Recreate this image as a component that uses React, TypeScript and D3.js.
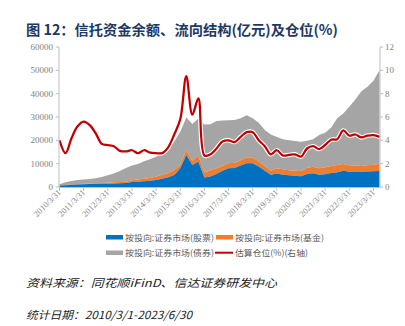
import React from "react";
import * as d3 from "d3";

const xTickLabels = ["2010/3/31","2011/3/31","2012/3/31","2013/3/31","2014/3/31","2015/3/31","2016/3/31","2017/3/31","2018/3/31","2019/3/31","2020/3/31","2021/3/31","2022/3/31","2023/3/31"];
const leftTicks = [0, 10000, 20000, 30000, 40000, 50000, 60000];
const rightTicks = [0, 2, 4, 6, 8, 10, 12];

// quarterly, 2010Q1 .. 2023Q2 (亿元)
const stockVals = [600,800,1000,1100,1200,1300,1300,1400,1400,1500,1600,1700,2100,2300,2500,2700,3000,3500,4200,5100,8000,13700,9400,10800,4100,4500,5600,7000,8000,8100,9200,10200,10200,8800,7000,5200,5800,5300,5000,4800,4600,5600,5900,5300,5500,6000,6300,7000,6500,6600,6500,6600,6700,6900];
const fundVals = [100,100,100,200,200,200,300,300,400,500,500,600,800,900,1000,1200,1500,1700,1800,2200,1400,2200,1900,2700,2100,2700,2400,2000,2300,2200,2300,2500,2400,2200,2000,1800,2200,2300,2200,2200,2300,2700,2800,2700,3000,3000,3100,2900,2800,2600,2500,2700,2800,3100];
const bondVals = [500,1100,1500,1700,1800,1900,2100,2600,3200,3800,4800,5800,6300,6700,7500,8000,8500,9200,10300,12100,14300,13900,15700,15900,20600,19700,20300,19500,18300,18400,18000,18100,16900,16500,15400,15500,13400,12900,12800,12700,12500,11500,11800,14300,14800,16500,20100,21600,25100,28300,32000,33700,36000,40000];
// 估算仓位 (%), right axis
const positionVals = [4.0,2.9,4.2,5.2,5.6,5.3,4.6,3.7,3.6,3.5,3.1,3.05,3.15,2.9,3.15,2.95,2.9,2.9,3.4,4.5,5.8,9.5,6.2,7.6,2.7,2.8,3.3,3.9,4.0,3.85,4.3,4.7,4.7,4.0,3.5,2.8,3.15,2.7,2.75,2.8,2.6,3.3,3.5,3.25,3.6,4.05,4.1,4.85,4.4,4.5,4.25,4.4,4.45,4.3];

const seriesNames = ["按投向:证券市场(股票)", "按投向:证券市场(基金)", "按投向:证券市场(债券)", "估算仓位(%)(右轴)"];
const colors = ["#0070c0", "#ed7d31", "#a5a5a5", "#c00000"];

const W = 405, H = 326;
const left = 59.5, right = 379.5, top = 47, bottom = 187;

export default function App() {
  const n = stockVals.length;
  const x = d3.scaleLinear().domain([0, n - 1]).range([left, right]);
  const yL = d3.scaleLinear().domain([0, 60000]).range([bottom, top]);
  const yR = d3.scaleLinear().domain([0, 12]).range([bottom, top]);

  const rows = d3.range(n).map((i) => ({ i, stock: stockVals[i], fund: fundVals[i], bond: bondVals[i] }));
  const stacked = d3.stack<any>().keys(["stock", "fund", "bond"])(rows);
  const area = d3.area<any>().x((d) => x(d.data.i)).y0((d) => yL(d[0])).y1((d) => yL(d[1]));
  const line = d3.line<number>().x((_, i) => x(i)).y((d) => yR(d)).curve(d3.curveCatmullRom.alpha(0.5));

  const axisColor = "#bfbfbf";
  const tickFont = "'Liberation Serif', 'Times New Roman', serif";
  const labelColor = "#7f7f7f";
  const legendColor = "#595959";
  const cjk = "'Noto Sans CJK SC', sans-serif";

  return (
    <svg width={W} height={H} style={{ position: "absolute", left: 0, top: 0, background: "#fff" }}>
      <rect width={W} height={H} fill="#fff" />
      <text x={26} y={35} fontFamily={cjk} fontWeight="bold" fontSize={14} fill="#203864" textLength={312} lengthAdjust="spacingAndGlyphs">
        图 12：信托资金余额、流向结构(亿元)及仓位(%)
      </text>

      {/* areas: draw bond (top) first so lower stacks cover */}
      {stacked.slice().reverse().map((s, k) => (
        <path key={k} d={area(s) || ""} fill={colors[2 - k]} />
      ))}

      {/* red line with white halo */}
      <path d={line(positionVals) || ""} fill="none" stroke="#fff" strokeWidth={4.5} strokeLinejoin="round" />
      <path d={line(positionVals) || ""} fill="none" stroke={colors[3]} strokeWidth={2.25} strokeLinejoin="round" />

      {/* left axis */}
      <line x1={left - 0.5} x2={left - 0.5} y1={top} y2={bottom} stroke={axisColor} />
      {leftTicks.map((t) => (
        <g key={t}>
          <line x1={left - 3.5} x2={left - 0.5} y1={yL(t)} y2={yL(t)} stroke={axisColor} />
          <text x={53} y={yL(t) + 3} textAnchor="end" fontFamily={tickFont} fontSize={9} fill={labelColor}>{t}</text>
        </g>
      ))}
      {/* right axis */}
      <line x1={right + 0.5} x2={right + 0.5} y1={top} y2={bottom} stroke={axisColor} />
      {rightTicks.map((t) => (
        <g key={t}>
          <line x1={right + 0.5} x2={right + 3.5} y1={yR(t)} y2={yR(t)} stroke={axisColor} />
          <text x={385} y={yR(t) + 3} textAnchor="start" fontFamily={tickFont} fontSize={9} fill={labelColor}>{t}</text>
        </g>
      ))}
      {/* bottom axis */}
      <line x1={left - 0.5} x2={right + 0.5} y1={bottom + 0.5} y2={bottom + 0.5} stroke={axisColor} />
      {xTickLabels.map((lab, k) => {
        const tx = x(k * 4);
        return (
          <g key={lab}>
            <line x1={tx} x2={tx} y1={bottom} y2={bottom + 4} stroke={axisColor} />
            <text transform={`translate(${tx + 2},${bottom + 6}) rotate(-45)`} textAnchor="end" fontFamily={tickFont} fontSize={8.5} fill={labelColor}>{lab}</text>
          </g>
        );
      })}

      {/* legend */}
      <g fontFamily={cjk} fontSize={8.5} fill={legendColor}>
        <rect x={106} y={235} width={17} height={4.5} fill={colors[0]} />
        <text x={125} y={240.5} textLength={89} lengthAdjust="spacingAndGlyphs">{seriesNames[0]}</text>
        <rect x={216} y={235} width={17} height={4.5} fill={colors[1]} />
        <text x={235} y={240.5} textLength={89} lengthAdjust="spacingAndGlyphs">{seriesNames[1]}</text>
        <rect x={106} y={250.5} width={17} height={4.5} fill={colors[2]} />
        <text x={125} y={256} textLength={89} lengthAdjust="spacingAndGlyphs">{seriesNames[2]}</text>
        <line x1={215} x2={233} y1={252.7} y2={252.7} stroke={colors[3]} strokeWidth={2} />
        <text x={235} y={256} textLength={73} lengthAdjust="spacingAndGlyphs">{seriesNames[3]}</text>
      </g>

      <text x={26} y={287} fontFamily={cjk} fontStyle="italic" fontSize={11} fill="#222" textLength={251} lengthAdjust="spacingAndGlyphs">
        资料来源：同花顺iFinD、信达证券研发中心
      </text>
      <text x={26} y={319} fontFamily={cjk} fontStyle="italic" fontSize={11} fill="#222" textLength={166} lengthAdjust="spacingAndGlyphs">
        统计日期：2010/3/1-2023/6/30
      </text>
    </svg>
  );
}
